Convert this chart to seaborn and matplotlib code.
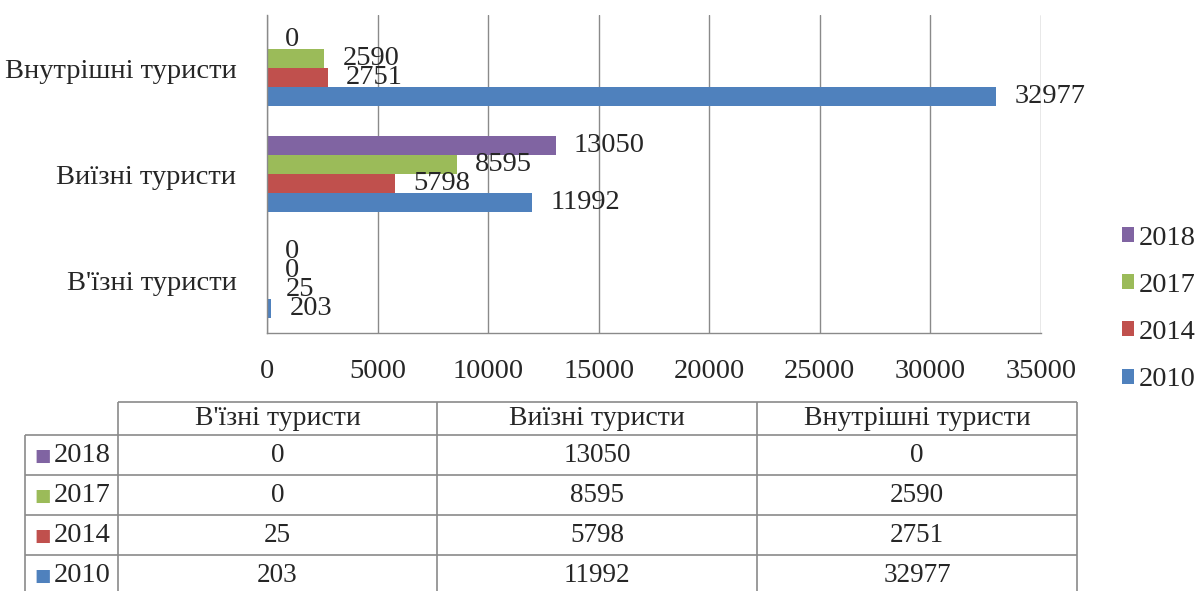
import pandas as pd
import matplotlib.pyplot as plt
import seaborn as sns
from matplotlib.patches import Patch

categories = ["В'їзні туристи", "Виїзні туристи", "Внутрішні туристи"]
years = ['2018', '2017', '2014', '2010']
v2018 = [0, 13050, 0]
v2017 = [0, 8595, 2590]
v2014 = [25, 5798, 2751]
v2010 = [203, 11992, 32977]
x_ticks = [0, 5000, 10000, 15000, 20000, 25000, 30000, 35000]

colors = {'2018': '#8064A2', '2017': '#9BBB59', '2014': '#C0504D', '2010': '#4F81BD'}
series = {'2018': v2018, '2017': v2017, '2014': v2014, '2010': v2010}

# long format table for seaborn
rows = []
for year in years:
    for cat, val in zip(categories, series[year]):
        rows.append({'category': cat, 'year': year, 'value': val})
df = pd.DataFrame(rows)

sns.set_style('white')
plt.rcParams['font.family'] = ['Liberation Serif', 'DejaVu Serif']

W, H = 1201, 591
fig = plt.figure(figsize=(W / 100, H / 100), dpi=100)
ax = fig.add_axes([267 / W, 1 - 333 / H, 774 / W, 318 / H])

chart_order = categories[::-1]  # Внутрішні on top
sns.barplot(data=df, x='value', y='category', hue='year', order=chart_order,
            hue_order=years, palette=colors, orient='h', width=0.71,
            saturation=1, linewidth=0, ax=ax)

for cont in ax.containers:
    ax.bar_label(cont, fmt='%d', padding=13, fontsize=20.5)

ax.set_xlim(0, 35000)
ax.set_ylim(2.5, -0.5)
ax.set_xticks(x_ticks)
ax.set_xticklabels([str(t) for t in x_ticks], fontsize=20.5)
ax.set_yticks(range(len(chart_order)))
ax.set_yticklabels(chart_order, fontsize=20.5)
ax.set_yticks([-0.5, 0.5, 1.5, 2.5], minor=True)
ax.tick_params(axis='y', which='major', length=0, pad=22)
ax.tick_params(axis='y', which='minor', length=5, color='#8a8a8a', width=1)
ax.tick_params(axis='x', length=5, color='#8a8a8a', width=1, pad=14)
ax.set_xlabel('')
ax.set_ylabel('')
ax.grid(axis='x', color='#8a8a8a', linewidth=1)
ax.set_axisbelow(True)
for s in ['top', 'right']:
    ax.spines[s].set_visible(False)
for s in ['left', 'bottom']:
    ax.spines[s].set_color('#8a8a8a')
    ax.spines[s].set_linewidth(1)

# legend on the right
ax.get_legend().remove()
handles = [Patch(facecolor=colors[y], edgecolor='none') for y in years]
fig.legend(handles, years, loc='center left', bbox_to_anchor=(1122 / W, 1 - 309 / H),
           frameon=False, fontsize=20.5, handlelength=0.43, handleheight=0.43,
           handletextpad=0.15, labelspacing=0.78, borderpad=0, borderaxespad=0)

# data table under the chart
tab = fig.add_axes([0, 0, 1, 1])
tab.set_xlim(0, W)
tab.set_ylim(H, 0)
tab.axis('off')
line_kw = dict(color='#8a8a8a', linewidth=1.2)
col_x = [25, 118, 437, 757, 1077]
row_y = [402, 435, 475, 515, 555, 595]
tab.hlines(row_y[0], col_x[1], col_x[-1], **line_kw)
tab.hlines(row_y[1:], col_x[0], col_x[-1], **line_kw)
tab.vlines(col_x[0], row_y[1], row_y[-1], **line_kw)
tab.vlines(col_x[1:], row_y[0], row_y[-1], **line_kw)

for j, cat in enumerate(categories):
    cx = (col_x[j + 1] + col_x[j + 2]) / 2
    tab.text(cx, (row_y[0] + row_y[1]) / 2, cat, ha='center', va='center', fontsize=20)
for i, year in enumerate(years):
    cy = (row_y[i + 1] + row_y[i + 2]) / 2
    tab.text(34, cy + 1, '■', color=colors[year], ha='left', va='center', fontsize=12.5,
             family='DejaVu Sans')
    tab.text(54, cy, year, ha='left', va='center', fontsize=20.5)
    for j in range(len(categories)):
        cx = (col_x[j + 1] + col_x[j + 2]) / 2
        tab.text(cx, cy, str(series[year][j]), ha='center', va='center', fontsize=19.5)

plt.savefig('out.png', dpi=100)
